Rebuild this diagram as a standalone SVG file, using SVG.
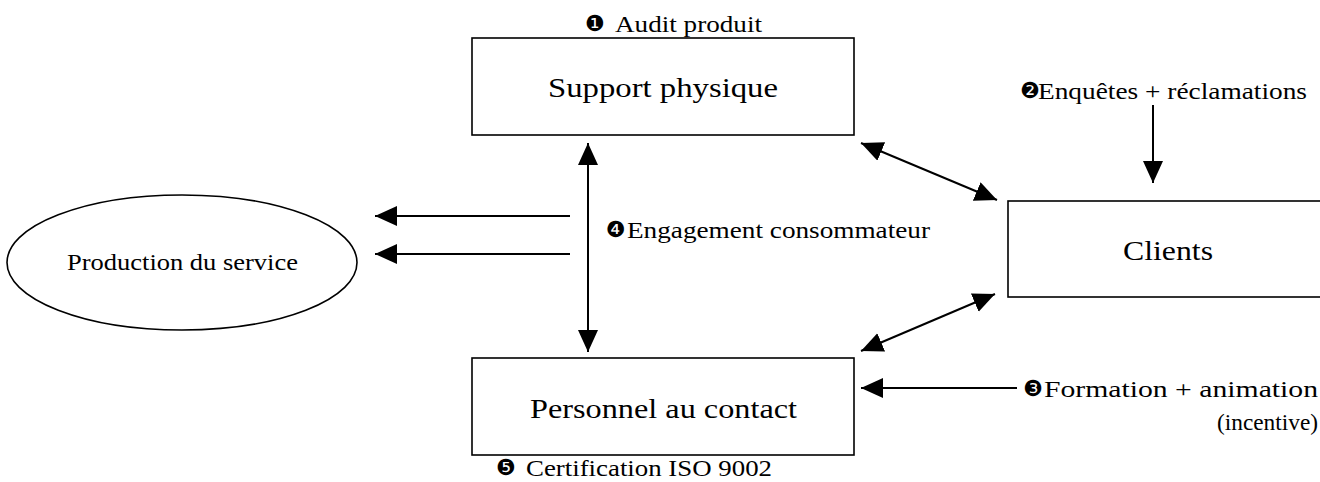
<svg xmlns="http://www.w3.org/2000/svg" width="1320" height="482" viewBox="0 0 1320 482">
<style>
.box{fill:#fff;stroke:#000;stroke-width:1.6}
.lbl{font-family:"Liberation Serif","Times New Roman",serif;fill:#000}
.big{font-size:28px}
.sm{font-size:23.5px}
.num{font-family:"DejaVu Sans",sans-serif;font-size:22px;fill:#000}
.ln{stroke:#000;stroke-width:2;fill:none}
</style>
<defs>
<marker id="ah" markerUnits="userSpaceOnUse" markerWidth="24" markerHeight="22" refX="22" refY="10" orient="auto-start-reverse">
<path d="M0,0 L22,10 L0,20 z" fill="#000"/>
</marker>
</defs>
<rect width="1320" height="482" fill="#fff"/>
<g id="support">
<rect class="box" x="472" y="38" width="382" height="97"/>
<text class="lbl big" x="548" y="97" textLength="230" lengthAdjust="spacingAndGlyphs">Support physique</text>
</g>
<g id="clients">
<rect class="box" x="1008" y="201" width="330" height="96"/>
<text class="lbl big" x="1123" y="260" textLength="90" lengthAdjust="spacingAndGlyphs">Clients</text>
</g>
<g id="personnel">
<rect class="box" x="472" y="358" width="382" height="97"/>
<text class="lbl big" x="530" y="418" textLength="267" lengthAdjust="spacingAndGlyphs">Personnel au contact</text>
</g>
<g id="production">
<ellipse class="box" cx="182" cy="262.5" rx="175" ry="67.5"/>
<text class="lbl sm" x="67" y="270" textLength="231" lengthAdjust="spacingAndGlyphs">Production du service</text>
</g>
<g id="labels">
<text class="num" x="585" y="31">❶</text>
<text class="lbl sm" x="615" y="32" textLength="147" lengthAdjust="spacingAndGlyphs">Audit produit</text>
<text class="num" x="1020" y="98">❷</text>
<text class="lbl sm" x="1038" y="99" textLength="269" lengthAdjust="spacingAndGlyphs">Enquêtes + réclamations</text>
<text class="num" x="1023" y="396">❸</text>
<text class="lbl sm" x="1044" y="397" textLength="274" lengthAdjust="spacingAndGlyphs">Formation + animation</text>
<text class="lbl sm" x="1217" y="430" textLength="101" lengthAdjust="spacingAndGlyphs">(incentive)</text>
<text class="num" x="606" y="237">❹</text>
<text class="lbl sm" x="627" y="238" textLength="303" lengthAdjust="spacingAndGlyphs">Engagement consommateur</text>
<text class="num" x="496" y="475">❺</text>
<text class="lbl sm" x="526" y="476" textLength="246" lengthAdjust="spacingAndGlyphs">Certification ISO 9002</text>
</g>
<g id="connectors">
<line class="ln" x1="588" y1="143" x2="588" y2="352" marker-start="url(#ah)" marker-end="url(#ah)"/>
<line class="ln" x1="570" y1="216" x2="375" y2="216" marker-end="url(#ah)"/>
<line class="ln" x1="570" y1="254" x2="375" y2="254" marker-end="url(#ah)"/>
<line class="ln" x1="861" y1="143" x2="997" y2="200" marker-start="url(#ah)" marker-end="url(#ah)"/>
<line class="ln" x1="861" y1="351" x2="995" y2="294" marker-start="url(#ah)" marker-end="url(#ah)"/>
<line class="ln" x1="1153" y1="105" x2="1153" y2="183" marker-end="url(#ah)"/>
<line class="ln" x1="1017" y1="388" x2="861" y2="388" marker-end="url(#ah)"/>
</g>
</svg>
